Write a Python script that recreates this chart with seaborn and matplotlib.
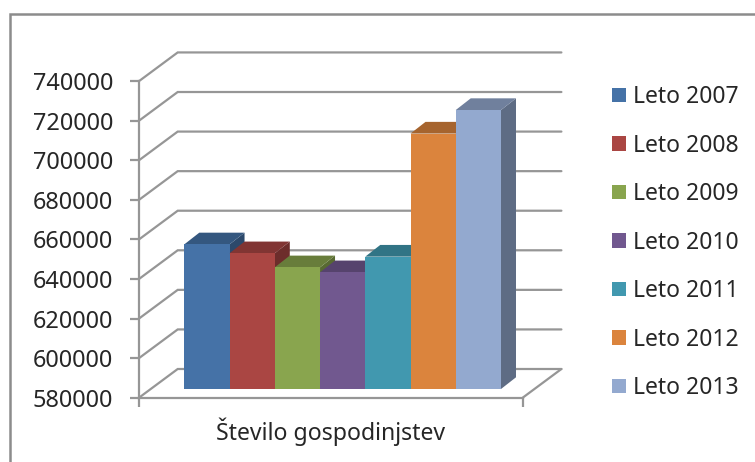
import matplotlib
matplotlib.use("Agg")
import matplotlib.pyplot as plt
from matplotlib.patches import Polygon, Rectangle
from matplotlib.lines import Line2D
import matplotlib.colors as mcolors
import pandas as pd
import seaborn as sns

years = ["Leto 2007", "Leto 2008", "Leto 2009", "Leto 2010", "Leto 2011", "Leto 2012", "Leto 2013"]
households = [653100, 648600, 641500, 639000, 646900, 709100, 721000]
colors = ["#4572A7", "#AA4643", "#89A54E", "#71588F", "#4198AF", "#DB843D", "#93A9CF"]
y_ticks = [580000, 600000, 620000, 640000, 660000, 680000, 700000, 720000, 740000]
category = "Število gospodinjstev"

W, H = 755, 462
GRID = "#969696"
TEXT = "#262626"
FS = 16.5
LW = 1.6
PX_PER_VAL = 39.57 / 20000


def rect(x0, x1, y_top, y_bot):
    return [x0 / W, 1 - y_bot / H, (x1 - x0) / W, (y_bot - y_top) / H]


sns.set_theme(style="white")
plt.rcParams["font.family"] = ["Noto Sans", "DejaVu Sans"]
fig = plt.figure(figsize=(W / 100, H / 100), dpi=100, facecolor="white")

# outer chart frame
fig.add_artist(Rectangle((10 / W, -0.05), 1.2, 1.05 - 14.5 / H, transform=fig.transFigure,
                         fill=False, edgecolor="#8c8c8c", linewidth=1.8))

span_px = (y_ticks[-1] - y_ticks[0]) * PX_PER_VAL

# front plane: value axis, floor edge, wall grid
front = fig.add_axes(rect(139, 522.7, 397.7 - span_px, 397.7))
front.set_xlim(0, 1)
front.set_ylim(y_ticks[0], y_ticks[-1])
front.patch.set_alpha(0)
for s in ("top", "right"):
    front.spines[s].set_visible(False)
for s in ("left", "bottom"):
    front.spines[s].set_color(GRID)
    front.spines[s].set_linewidth(LW)
front.set_yticks(y_ticks)
front.set_yticklabels([str(v) for v in y_ticks], fontsize=16.9, color=TEXT)
front.set_xticks([0, 1])
front.set_xticklabels(["", ""])
front.tick_params(axis="both", length=6.5, width=LW, color=GRID, left=True, bottom=True, pad=12)
front.tick_params(axis="x", pad=0)
front.set_xlabel(category, fontsize=16.6, color=TEXT, labelpad=8)

depth_x = 38.7 / (522.7 - 139)
depth_y = 28.7 / PX_PER_VAL
for v in y_ticks:
    front.add_line(Line2D([0, depth_x, 1 + depth_x], [v, v + depth_y, v + depth_y],
                          color=GRID, lw=LW, clip_on=False, solid_joinstyle="miter"))
front.add_line(Line2D([1, 1 + depth_x], [y_ticks[0], y_ticks[0] + depth_y],
                      color=GRID, lw=LW, clip_on=False))

# bars
ax = fig.add_axes(rect(184.3, 501, 389 - span_px, 389))
ax.patch.set_alpha(0)
df = pd.DataFrame({"leto": years, "gospodinjstva": households})
sns.barplot(data=df, x="leto", y="gospodinjstva", hue="leto", palette=colors,
            hue_order=years, order=years, width=1, dodge=False, saturation=1,
            legend=False, ax=ax, linewidth=0)
ax.set_xlim(-0.5, len(years) - 0.5)
ax.set_ylim(y_ticks[0], y_ticks[-1])
ax.axis("off")

bars = sorted([p for p in ax.patches], key=lambda p: p.get_x())
bar_px = (501 - 184.3) / len(years)
dx = 15 / bar_px
dy = 11.7 / PX_PER_VAL


def shade(c, f):
    r, g, b = mcolors.to_rgb(c)
    return (r * f, g * f, b * f)


for i, (bar, c) in enumerate(zip(bars, colors)):
    x0 = bar.get_x()
    x1 = x0 + bar.get_width()
    top = bar.get_height()
    base = y_ticks[0]
    bar.set_zorder(10 + 2 * i + 1)
    ax.add_patch(Polygon([(x1, base), (x1 + dx, base + dy), (x1 + dx, top + dy), (x1, top)],
                         closed=True, facecolor=shade(c, 0.64), edgecolor="none",
                         clip_on=False, zorder=10 + 2 * i))
    ax.add_patch(Polygon([(x0, top), (x0 + dx, top + dy), (x1 + dx, top + dy), (x1, top)],
                         closed=True, facecolor=shade(c, 0.76), edgecolor="none",
                         clip_on=False, zorder=10 + 2 * i))

handles = [Rectangle((0, 0), 1, 1, facecolor=c, edgecolor="none") for c in colors]
fig.legend(handles, years, loc="upper left", bbox_to_anchor=(612 / W, 1 - 85 / H),
           frameon=False, fontsize=FS, labelcolor=TEXT, borderpad=0, borderaxespad=0,
           handlelength=10 / FS, handleheight=10 / FS, handletextpad=0.33,
           labelspacing=1.07)

fig.savefig("out.png", dpi=100)
